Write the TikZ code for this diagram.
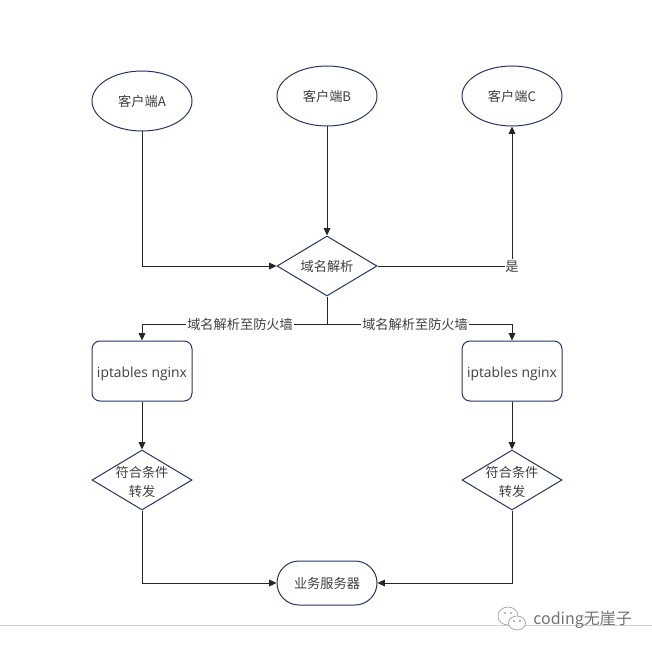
\documentclass[tikz,border=0pt]{standalone}
\usepackage{fontspec}
\setmainfont{Noto Sans CJK SC}[Scale=1.0]
\newfontfamily\latinfont{Open Sans}
\usetikzlibrary{shapes.geometric,arrows.meta,positioning}
\definecolor{edgeblue}{HTML}{2A3560}
\definecolor{txt}{HTML}{404040}
\newcommand{\dn}[1]{\raisebox{-4.2pt}[0pt][0pt]{#1}}
\tikzset{
  x=0.75pt,y=-0.75pt,
  base/.style={draw=edgeblue,line width=0.75pt,inner sep=0pt,text=txt,font=\fontsize{9.9pt}{14.2pt}\selectfont,align=center},
  oval/.style={base,ellipse,minimum width=75pt,minimum height=45pt},
  choice/.style={base,diamond,shape aspect=1.667,inner sep=-5pt,minimum width=75pt,minimum height=45pt},
  boxy/.style={base,rectangle,rounded corners=6pt,minimum width=75pt,minimum height=45pt},
  term/.style={base,rectangle,rounded corners=16.5pt,minimum width=75pt,minimum height=33pt},
  conn/.style={draw=black!85,line width=0.75pt,-{Triangle[length=5.5pt,width=5pt]}},
  plain/.style={draw=black!85,line width=0.75pt},
  lbl/.style={fill=white,inner sep=0.6pt,minimum height=11pt,text=txt,font=\fontsize{9.9pt}{11pt}\selectfont},
  wmark/.style={text=black!55,inner sep=0pt,font=\fontsize{12pt}{13pt}\selectfont}
}
\begin{document}
\begin{tikzpicture}
\useasboundingbox (0,0) rectangle (652,649);
\fill[white] (0,0) rectangle (652,649);
\node[oval] (a) at (142,101) {\dn{客户端A}};
\node[oval] (b) at (327,96) {\dn{客户端B}};
\node[oval] (c) at (512,96) {\dn{客户端C}};
\node[choice] (d) at (327,266) {\dn{域名解析}};
\node[boxy] (l) at (142,371) {\raisebox{-5pt}[0pt][0pt]{\latinfont\fontsize{10.4pt}{12pt}\selectfont iptables nginx}};
\node[boxy] (r) at (512,371) {\raisebox{-5pt}[0pt][0pt]{\latinfont\fontsize{10.4pt}{12pt}\selectfont iptables nginx}};
\node[choice] (dl) at (142,480) {\raisebox{-5pt}[0pt][0pt]{符合条件}\\\raisebox{-5pt}[0pt][0pt]{转发}};
\node[choice] (dr) at (512,480) {\raisebox{-5pt}[0pt][0pt]{符合条件}\\\raisebox{-5pt}[0pt][0pt]{转发}};
\node[term] (s) at (327,583) {\dn{业务服务器}};
\coordinate (split) at (327,324);
\draw[conn] (a.south) |- (d.west);
\draw[conn] (b.south) -- (d.north);
\draw[conn] (d.east) -| node[lbl,pos=0.5] {\dn{是}} (c.south);
\draw[plain] (d.south) -- (split);
\draw[conn] (split) -| node[lbl,pos=0.235] {\dn{域名解析至防火墙}} (l.north);
\draw[conn] (split) -| node[lbl,pos=0.238] {\dn{域名解析至防火墙}} (r.north);
\draw[conn] (l.south) -- (dl.north);
\draw[conn] (r.south) -- (dr.north);
\draw[conn] (dl.south) |- (s.west);
\draw[conn] (dr.south) |- (s.east);
% watermark
\draw[black!18,line width=0.75pt] (0,625.5) -- (652,625.5);
\node[wmark,anchor=west] (wm) at (533,620) {coding无崖子};
\draw[fill=white,draw=black!45,line width=0.4pt] (508,616) ellipse (10 and 9);
\draw[fill=white,draw=black!45,line width=0.4pt] (517,623) ellipse (8.5 and 7);
\fill[black!55] (505,613) circle (0.9) (511,613) circle (0.9) (514,621) circle (0.8) (520,621) circle (0.8);
\end{tikzpicture}
\end{document}
